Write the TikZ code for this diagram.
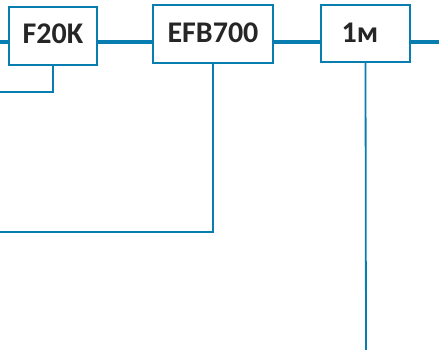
\documentclass[tikz,border=0pt]{standalone}
\usepackage{fontspec}
\setmainfont{Carlito}
\definecolor{lineblue}{RGB}{8,126,176}
\begin{document}
\begin{tikzpicture}[x=1pt,y=-1pt,
  box/.style={draw=lineblue,line width=2pt,fill=white,inner sep=0pt,
    font=\bfseries\fontsize{30}{30}\selectfont,text=black!85},
  thick link/.style={draw=lineblue,line width=4.3pt},
  thin link/.style={draw=lineblue,line width=1.8pt}]
\useasboundingbox (0,0) rectangle (439,352);
\coordinate (l0) at (0,42);
\coordinate (r0) at (439,42);
\coordinate (f1) at (0,92);
\coordinate (e1) at (0,232);
\coordinate (m1) at (366,350);
\draw[thick link] (l0) -- (9,42);
\draw[thick link] (97,42) -- (153,42);
\draw[thick link] (273,42) -- (321,42);
\draw[thick link] (410,42) -- (r0);
\node[box,minimum width=88pt,minimum height=58pt] (f20k) at (53,36) {};
\node[box,minimum width=120pt,minimum height=58pt] (efb) at (213,34) {};
\node[box,minimum width=89pt,minimum height=57pt] (m) at (365.5,33.5) {};
\node[font=\bfseries\fontsize{30}{30}\selectfont,text=black!85,anchor=base] (t1) at (53,44) {F20K};
\node[font=\bfseries\fontsize{30}{30}\selectfont,text=black!85,anchor=base] (t2) at (213,43) {EFB700};
\node[font=\bfseries\fontsize{30}{30}\selectfont,text=black!85,anchor=base] (t3) at (360,43) {1м};
\draw[thin link] (f20k.south) |- (f1);
\draw[thin link] (efb.south) |- (e1);
\draw[thin link] (m.south) -- (m1);
\end{tikzpicture}
\end{document}
